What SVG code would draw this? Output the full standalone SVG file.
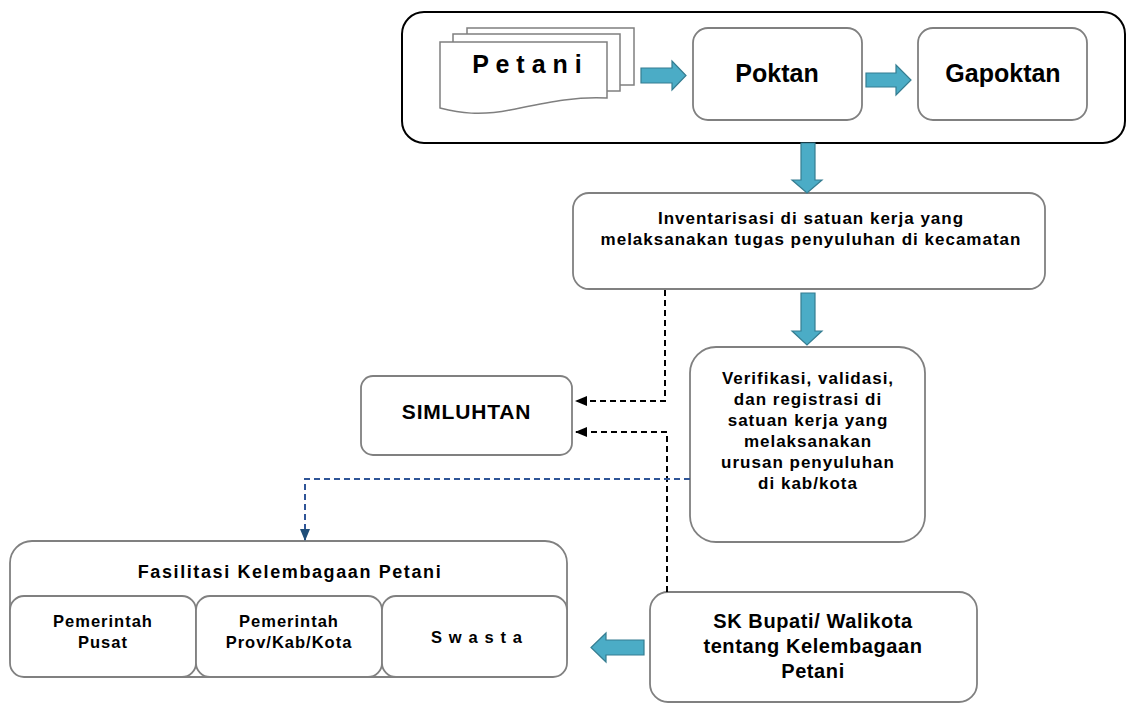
<svg xmlns="http://www.w3.org/2000/svg" width="1128" height="704" viewBox="0 0 1128 704">
  <style>
    .box { fill: #ffffff; stroke: #808080; stroke-width: 1.8; }
    .frame { fill: #ffffff; stroke: #000000; stroke-width: 2; }
    .page { fill: #ffffff; stroke: #7f7f7f; stroke-width: 1.5; }
    .block { fill: #4bacc6; stroke: #357d91; stroke-width: 1.2; }
    .dash { fill: none; stroke: #000000; stroke-width: 2; stroke-dasharray: 6 4; }
    .dash-blue { fill: none; stroke: #2f5597; stroke-width: 2; stroke-dasharray: 6 4; }
    text { font-family: "Liberation Sans", Arial, sans-serif; font-weight: bold; fill: #000000; text-anchor: middle; }
    .t14 { font-size: 16.5px; letter-spacing: 1px; }
    .t16 { font-size: 17px; letter-spacing: 1px; }
    .t17 { font-size: 17px; letter-spacing: 1px; }
    .t20 { font-size: 20px; letter-spacing: 0.6px; }
    .title { font-size: 25px; }
  </style>
  <defs>
    <marker id="head-black" viewBox="0 0 12 10" refX="11" refY="5" markerWidth="12" markerHeight="10" markerUnits="userSpaceOnUse" orient="auto">
      <path d="M0,0 L12,5 L0,10 Z" fill="#000000"/>
    </marker>
    <marker id="head-blue" viewBox="0 0 12 10" refX="11" refY="5" markerWidth="12" markerHeight="10" markerUnits="userSpaceOnUse" orient="auto">
      <path d="M0,0 L12,5 L0,10 Z" fill="#1f4e79"/>
    </marker>
  </defs>

  <!-- top frame holding the farmer groups -->
  <g id="kelompok-frame">
    <rect class="frame" x="402" y="12" width="723" height="131" rx="22"/>
  </g>

  <g id="petani">
    <rect class="page" x="467" y="28" width="167" height="57"/>
    <rect class="page" x="453" y="34" width="167" height="57"/>
    <path class="page" d="M440,42 H607 V98 C575,96 545,103 510,110 C480,116 460,113 440,108 Z"/>
    <text class="title" x="527" y="73">P e t a n i</text>
  </g>

  <g id="poktan">
    <rect class="box" x="693" y="28" width="169" height="92" rx="15"/>
    <text class="title" x="777" y="82">Poktan</text>
  </g>

  <g id="gapoktan">
    <rect class="box" x="918" y="28" width="169" height="92" rx="15"/>
    <text class="title" x="1003" y="82">Gapoktan</text>
  </g>

  <g id="inventarisasi">
    <rect class="box" x="573" y="193" width="472" height="96" rx="16"/>
    <text class="t16" x="811" y="224">Inventarisasi di satuan kerja yang</text>
    <text class="t16" x="811" y="245">melaksanakan tugas penyuluhan di kecamatan</text>
  </g>

  <g id="verifikasi">
    <rect class="box" x="690" y="347" width="235" height="195" rx="26"/>
    <text class="t17" x="808" y="384">Verifikasi, validasi,</text>
    <text class="t17" x="808" y="405">dan registrasi di</text>
    <text class="t17" x="808" y="426">satuan kerja yang</text>
    <text class="t17" x="808" y="447">melaksanakan</text>
    <text class="t17" x="808" y="468">urusan penyuluhan</text>
    <text class="t17" x="808" y="489">di kab/kota</text>
  </g>

  <g id="simluhtan">
    <rect class="box" x="361" y="376" width="211" height="79" rx="12"/>
    <text x="466.5" y="419" style="font-size:21px;letter-spacing:0.8px">SIMLUHTAN</text>
  </g>

  <g id="sk-bupati">
    <rect class="box" x="650" y="592" width="327" height="110" rx="18"/>
    <text class="t20" x="813" y="628">SK Bupati/ Walikota</text>
    <text class="t20" x="813" y="653">tentang Kelembagaan</text>
    <text class="t20" x="813" y="678">Petani</text>
  </g>

  <g id="fasilitasi">
    <rect class="box" x="10" y="541" width="557" height="136" rx="22"/>
    <text x="290" y="578" style="font-size:18px;letter-spacing:1.6px">Fasilitasi Kelembagaan Petani</text>
    <g id="pemerintah-pusat">
      <rect class="box" x="10" y="596" width="186" height="81" rx="14"/>
      <text class="t14" x="103" y="627">Pemerintah</text>
      <text class="t14" x="103" y="648">Pusat</text>
    </g>
    <g id="pemerintah-daerah">
      <rect class="box" x="196" y="596" width="186" height="81" rx="14"/>
      <text class="t14" x="289" y="627">Pemerintah</text>
      <text class="t14" x="289" y="648">Prov/Kab/Kota</text>
    </g>
    <g id="swasta">
      <rect class="box" x="382" y="596" width="185" height="81" rx="14"/>
      <text class="t14" x="477" y="643" style="letter-spacing:1.1px">S w a s t a</text>
    </g>
  </g>

  <!-- connectors -->
  <g id="connectors">
    <polygon class="block" points="641,68 672,68 672,61 686,75.5 672,90 672,83 641,83"/>
    <polygon class="block" points="866,73 896,73 896,65 911,80 896,95 896,87 866,87"/>
    <polygon class="block" points="801,143 815,143 815,180 822,180 807,193 792,180 801,180"/>
    <polygon class="block" points="801,293 815,293 815,331 822,331 807,345 792,331 801,331"/>
    <polygon class="block" points="644,640 606,640 606,633 591,647.5 606,662 606,655 644,655"/>
    <path class="dash" d="M665,290 V401 H576" marker-end="url(#head-black)"/>
    <path class="dash" d="M667,592 V432 H576" marker-end="url(#head-black)"/>
    <path class="dash-blue" d="M690,479 H305 V540" marker-end="url(#head-blue)"/>
  </g>
</svg>
